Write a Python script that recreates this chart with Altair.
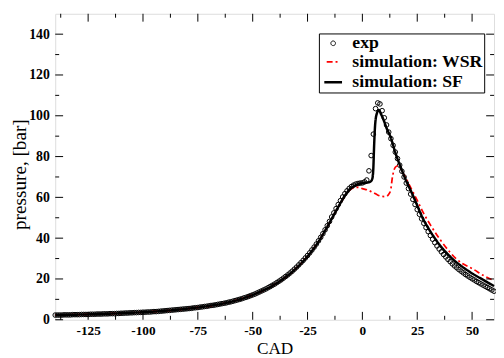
import altair as alt
import pandas as pd

FONT = "Liberation Serif"
LABELS = ["exp", "simulation: WSR", "simulation: SF"]

# experimental pressure, one sample per crank-angle degree from -140 to 60
exp_cad = list(range(-140, 61))
exp_p = [
    2.3, 2.3, 2.3, 2.3, 2.4, 2.4, 2.4, 2.4, 2.5, 2.5,
    2.5, 2.5, 2.6, 2.6, 2.6, 2.6, 2.7, 2.7, 2.7, 2.8,
    2.8, 2.8, 2.9, 2.9, 2.9, 3.0, 3.0, 3.0, 3.1, 3.1,
    3.2, 3.2, 3.3, 3.3, 3.4, 3.4, 3.5, 3.5, 3.6, 3.6,
    3.7, 3.7, 3.8, 3.8, 3.9, 4.0, 4.0, 4.1, 4.2, 4.3,
    4.4, 4.5, 4.6, 4.7, 4.8, 4.9, 5.0, 5.1, 5.2, 5.3,
    5.4, 5.5, 5.6, 5.8, 5.9, 6.0, 6.2, 6.3, 6.5, 6.6,
    6.8, 7.0, 7.1, 7.3, 7.5, 7.7, 7.9, 8.1, 8.3, 8.6,
    8.8, 9.1, 9.4, 9.7, 10.0, 10.3, 10.7, 11.0, 11.4, 11.8,
    12.2, 12.6, 13.1, 13.6, 14.1, 14.6, 15.1, 15.7, 16.3, 16.9,
    17.5, 18.2, 18.9, 19.6, 20.4, 21.2, 22.0, 22.9, 23.8, 24.8,
    25.8, 26.9, 28.0, 29.1, 30.3, 31.5, 32.8, 34.2, 35.6, 37.1,
    38.7, 40.4, 42.2, 44.1, 46.1, 48.2, 50.4, 52.4, 54.5, 56.5,
    58.4, 60.2, 61.8, 63.2, 64.4, 65.3, 66.0, 66.5, 66.8, 67.0,
    67.1, 67.6, 68.5, 73.0, 80.5, 91.0, 103.5, 106.3, 105.8, 102.5,
    99.0, 95.5, 92.0, 88.8, 85.5, 82.2, 79.0, 75.8, 72.8, 70.0,
    67.0, 64.3, 61.6, 59.0, 56.5, 54.0, 51.7, 49.5, 47.3, 45.2,
    43.2, 41.3, 39.5, 37.8, 36.2, 34.7, 33.3, 32.0, 30.8, 29.6,
    28.5, 27.4, 26.4, 25.5, 24.6, 23.8, 23.0, 22.2, 21.5, 20.8,
    20.1, 19.5, 18.8, 18.2, 17.6, 17.0, 16.4, 15.8, 15.2, 14.6,
    14.0,
]

wsr_cad = [-140, -120, -100, -80, -60, -50, -40, -30, -20, -14,
           -10, -6, -4, -2, 0, 2.4, 5, 6.9, 9, 10.6,
           12, 12.9, 13.6, 14.3, 15.1, 16.1, 17, 18.5, 20, 21.8,
           25, 27.8, 31, 35.3, 40, 42.8, 46, 50.2, 55, 60]
wsr_p = [2.3, 2.8, 3.7, 5.4, 8.8, 12.2, 17.3, 25.4, 38.3, 49.5,
         57.2, 63.4, 64.6, 64.9, 64.3, 63.6, 62.3, 61.2, 60.5, 60.4,
         61.5, 63.6, 69.3, 73.0, 74.9, 75.5, 74.8, 72.0, 69.0, 65.2,
         58.5, 52.4, 46.5, 39.5, 33.0, 29.8, 27.3, 25.0, 21.8, 19.2]

sf_cad = [-140, -130, -120, -110, -100, -90, -80, -70, -60,
          -55, -50, -45, -40, -35, -30, -25, -20,
          -17, -14, -11, -8, -6, -4, -2, 0,
          2, 3, 4, 4.6, 5.0, 5.3, 5.8, 6.6, 7.5, 8.5,
          10, 11, 12.9, 15, 17.4, 20, 22.6, 25, 27.8, 30,
          35.3, 40, 42.8, 45, 50.2, 55, 60]
sf_p = [2.3, 2.5, 2.8, 3.2, 3.7, 4.4, 5.4, 6.8, 8.8,
        10.3, 12.2, 14.5, 17.3, 20.9, 25.4, 31.1, 38.3,
        43.7, 49.5, 55.3, 60.8, 63.6, 65.4, 66.5, 67.0,
        67.2, 67.4, 68.0, 69.5, 74.5, 84.0, 95.5, 101.2, 102.8, 100.8,
        97.0, 94.0, 89.4, 82.0, 74.9, 68.0, 62.0, 56.0, 49.1, 45.0,
        36.6, 31.0, 28.2, 26.4, 22.6, 19.6, 16.5]

x_major = [-125, -100, -75, -50, -25, 0, 25, 50]
x_minor = [-137.5, -112.5, -87.5, -62.5, -37.5, -12.5, 12.5, 37.5]
y_major = [0, 20, 40, 60, 80, 100, 120, 140]
y_minor = [10, 30, 50, 70, 90, 110, 130]

W, H = 446, 311
MAJ, MIN = 8, 4

exp_df = pd.DataFrame({"cad": exp_cad, "p": exp_p, "series": LABELS[0]})
wsr_df = pd.DataFrame({"cad": wsr_cad, "p": wsr_p, "series": LABELS[1]})
sf_df = pd.DataFrame({"cad": sf_cad, "p": sf_p, "series": LABELS[2]})

xs = alt.Scale(domain=[-140, 60], nice=False, zero=False)
ys = alt.Scale(domain=[0, 150], nice=False, zero=False)

color_scale = alt.Scale(domain=LABELS, range=["black", "#ff0000", "black"])
shape_scale = alt.Scale(domain=LABELS, range=["circle", "stroke", "stroke"])
size_scale = alt.Scale(domain=LABELS, range=[22, 324, 324])
dash_scale = alt.Scale(domain=LABELS, range=[[1, 0], [6, 3, 2, 3], [1, 0]])
sw_scale = alt.Scale(domain=LABELS, range=[1, 2.5, 3])

legend = alt.Legend(
    title=None, orient="none", legendX=268, legendY=20,
    strokeColor="black", fillColor="white", padding=1,
    labelFont=FONT, labelFontSize=18, labelFontWeight="bold", labelColor="black",
    labelOffset=9, symbolOffset=3, rowPadding=1, labelLimit=300,
)

x_axis = alt.Axis(
    values=x_major, ticks=False, domain=False, grid=False,
    labelFont=FONT, labelFontSize=13.5, labelFontWeight="bold", labelColor="black",
    labelPadding=4, labelExpr="'' + datum.value",
    title="CAD", titleFont=FONT, titleFontSize=17.5, titleFontWeight="normal",
    titleColor="black", titleY=34, titleBaseline="alphabetic",
)
y_axis = alt.Axis(
    values=y_major, ticks=False, domain=False, grid=False,
    labelFont=FONT, labelFontSize=14, labelFontWeight="bold", labelColor="black",
    labelPadding=6, labelExpr="'' + datum.value",
    title="pressure, [bar]", titleFont=FONT, titleFontSize=19.5, titleFontWeight="normal",
    titleColor="black", titleX=-30.5, titleY=163, titleAngle=270,
    titleAlign="center", titleBaseline="alphabetic",
)

points = alt.Chart(exp_df).mark_point(filled=False, strokeWidth=1, opacity=1).encode(
    x=alt.X("cad:Q", scale=xs, axis=x_axis),
    y=alt.Y("p:Q", scale=ys, axis=y_axis),
    color=alt.Color("series:N", scale=color_scale, legend=legend),
    shape=alt.Shape("series:N", scale=shape_scale, legend=legend),
    size=alt.Size("series:N", scale=size_scale, legend=legend),
)


def sim_line(df):
    return alt.Chart(df).mark_line(interpolate="monotone").encode(
        x=alt.X("cad:Q", scale=xs, axis=x_axis),
        y=alt.Y("p:Q", scale=ys, axis=y_axis),
        color=alt.Color("series:N", scale=color_scale, legend=legend),
        strokeDash=alt.StrokeDash("series:N", scale=dash_scale, legend=legend),
        strokeWidth=alt.StrokeWidth("series:N", scale=sw_scale, legend=legend),
    )


def xticks(vals, length, top):
    df = pd.DataFrame({"v": vals})
    if top:
        yv, y2v = 0, length
    else:
        yv, y2v = H, H - length
    return alt.Chart(df).mark_rule(color="black", strokeWidth=1).encode(
        x=alt.X("v:Q", scale=xs, axis=x_axis), y=alt.value(yv), y2=alt.value(y2v)
    )


def yticks(vals, length, right):
    df = pd.DataFrame({"v": vals})
    if right:
        xv, x2v = W, W - length
    else:
        xv, x2v = 0, length
    return alt.Chart(df).mark_rule(color="black", strokeWidth=1).encode(
        y=alt.Y("v:Q", scale=ys, axis=y_axis), x=alt.value(xv), x2=alt.value(x2v)
    )


ticks = [
    xticks(x_major, MAJ, False), xticks(x_minor, MIN, False),
    xticks(x_major, MAJ, True), xticks(x_minor, MIN, True),
    yticks(y_major, MAJ, False), yticks(y_minor, MIN, False),
    yticks(y_major, MAJ, True), yticks(y_minor, MIN, True),
]

chart = alt.layer(points, sim_line(wsr_df), sim_line(sf_df), *ticks).properties(
    width=W, height=H,
    autosize=alt.AutoSizeParams(type="none"),
    padding={"left": 48, "top": 3, "right": 2, "bottom": 36},
).configure_view(stroke="black", strokeWidth=1.5).configure(background="white")

chart.save("out.html", embed_options={"renderer": "svg", "actions": False})
